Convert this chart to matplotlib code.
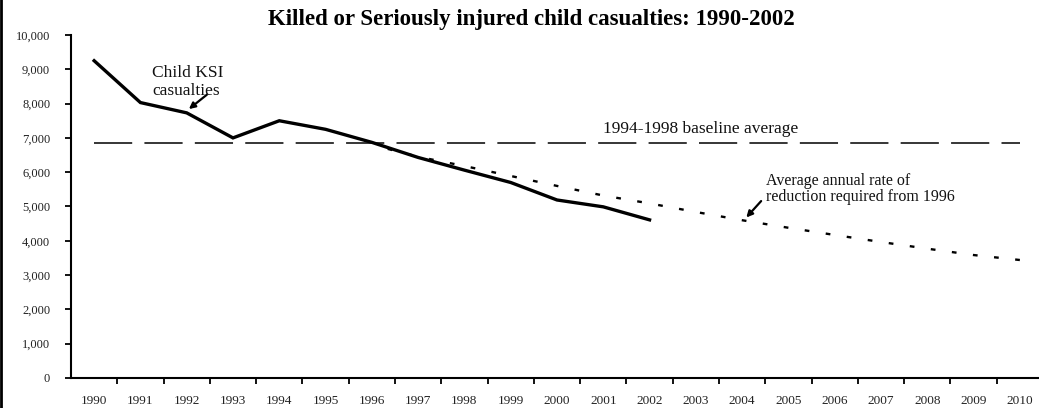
import numpy as np
import matplotlib.pyplot as plt
from matplotlib.lines import Line2D

# data
years = list(range(1990, 2011))
ksi_years = list(range(1990, 2003))
ksi_vals = [9250, 8030, 7730, 7000, 7500, 7250, 6870, 6430, 6060, 5700, 5190, 4990, 4610]
target_years = list(range(1996, 2011))
target_vals = [6800, 6450, 6180, 5890, 5600, 5320, 5090, 4840, 4600, 4380, 4170, 3965, 3770, 3585, 3440]
baseline = 6840
yticks = list(range(0, 10001, 1000))

plt.rcParams['font.family'] = ['Liberation Serif', 'DejaVu Serif']

W, H = 1039, 408
fig = plt.figure(figsize=(W / 100, H / 100), dpi=100)
# axes: left spine at x=71px, bottom at y=378px, top (10,000) at y=35px
ax = fig.add_axes([71 / W, 30 / H, 972 / W, 343 / H])

ax.plot(ksi_years, ksi_vals, color='black', lw=2.4, solid_joinstyle='miter')
# drawn from 2010 backwards so the dot pattern starts at the 2010 end
ax.plot(target_years[::-1], target_vals[::-1], color='black', lw=1.7, dashes=(2, 7))
ax.plot([years[0], years[-1]], [baseline, baseline], color='black', lw=1.1, dashes=(25, 8))

ax.set_xlim(1989.5, 2010.5)
ax.set_ylim(0, 10000)
ax.set_yticks(yticks)
ax.set_yticklabels([f'{v:,}' for v in yticks], fontsize=9, color='#222222')
ax.set_xticks([y + 0.5 for y in years[:-1]])
ax.set_xticklabels([])
ax.set_xticks(years, minor=True)
ax.set_xticklabels([str(y) for y in years], minor=True, fontsize=9.5, color='#222222')
ax.tick_params(axis='x', which='minor', length=0, pad=12)
ax.tick_params(axis='x', which='major', length=4, width=1.3, direction='out')
ax.tick_params(axis='y', length=4, width=1.3, pad=11)
for s in ['top', 'right']:
    ax.spines[s].set_visible(False)
for s in ['left', 'bottom']:
    ax.spines[s].set_linewidth(1.5)

fig.text(531 / W, 1 - 19 / H, 'Killed or Seriously injured child casualties: 1990-2002',
         ha='center', va='center', fontsize=16.5, fontweight='bold')

ax.annotate('Child KSI\ncasualties', xy=(1992, ksi_vals[2]), xytext=(152 / W, 1 - 82 / H),
            textcoords='figure fraction', ha='left', va='center', fontsize=12.5,
            linespacing=1.15, color='#111111')
ax.annotate('', xy=(1992, ksi_vals[2] + 60), xytext=(209 / W, 1 - 93 / H),
            textcoords='figure fraction',
            arrowprops=dict(arrowstyle='-|>', color='black', lw=1.6, mutation_scale=9))

ax.text(701 / W, 1 - 129 / H, '1994-1998 baseline average', transform=fig.transFigure,
        ha='center', va='center', fontsize=12.5, color='#111111')

ax.text(766 / W, 1 - 189 / H, 'Average annual rate of\nreduction required from 1996',
        transform=fig.transFigure, ha='left', va='center', fontsize=11.5,
        linespacing=1.0, color='#111111')
ax.annotate('', xy=(2004.05, 4620), xytext=(763 / W, 1 - 199 / H),
            textcoords='figure fraction',
            arrowprops=dict(arrowstyle='-|>', color='black', lw=1.6, mutation_scale=9))

# left border of the original image
fig.add_artist(Line2D([1 / W, 1 / W], [0, 1], color='black', lw=2))

fig.savefig('out.png', dpi=100)
